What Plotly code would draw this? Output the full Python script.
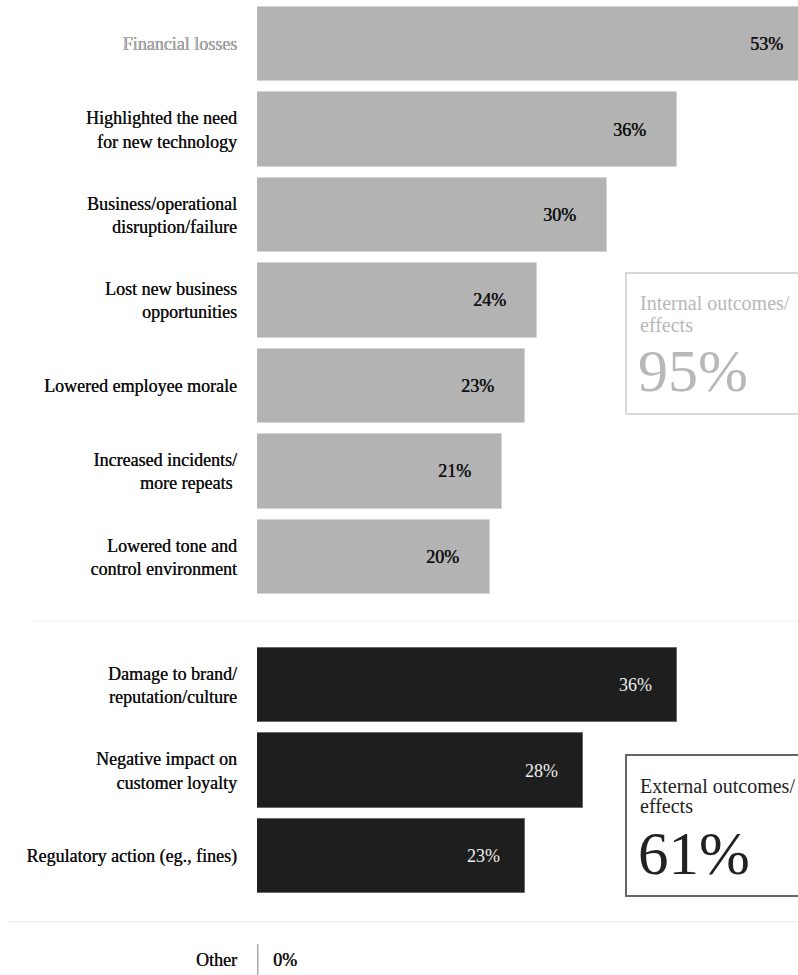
import plotly.graph_objects as go

# ---- data ----
internal_labels = ["Financial losses", "Highlighted the need<br>for new technology",
                   "Business/operational<br>disruption/failure", "Lost new business<br>opportunities",
                   "Lowered employee morale", "Increased incidents/<br>more repeats ",
                   "Lowered tone and<br>control environment"]
internal_values = [53, 36, 30, 24, 23, 21, 20]
external_labels = ["Damage to brand/<br>reputation/culture", "Negative impact on<br>customer loyalty",
                   "Regulatory action (eg., fines)"]
external_values = [36, 28, 23]
other_labels = ["Other"]
other_values = [0]
internal_title = ["Internal outcomes/", "effects"]
external_title = ["External outcomes/", "effects"]
internal_total = 95
external_total = 61

# ---- layout positions ----
internal_pos = [0, 1, 2, 3, 4, 5, 6]
external_pos = [7.5, 8.5, 9.5]
other_pos = [10.71]
XMAX = 46.4
FONT = "'Liberation Serif', 'Times New Roman', serif"
GRAY = "#b3b3b3"
DARK = "#1e1e1e"

fig = go.Figure()
fig.add_trace(go.Bar(y=internal_pos, x=internal_values, orientation="h", width=0.87,
                     marker=dict(color=GRAY, line=dict(color="#d4d4d4", width=1)),
                     hoverinfo="skip", showlegend=False))
fig.add_trace(go.Bar(y=external_pos, x=external_values, orientation="h", width=0.87,
                     marker=dict(color=DARK, line=dict(color="#6a6a6a", width=1)),
                     hoverinfo="skip", showlegend=False))

annotations = []
for v, p in zip(internal_values, internal_pos):
    clipped = v > XMAX
    annotations.append(dict(x=min(v, XMAX), y=p, xref="x", yref="y", text=f"{v}%",
                            showarrow=False, xanchor="right", yanchor="middle",
                            xshift=-13 if clipped else -29,
                            font=dict(family=FONT, size=18, color="#111", shadow="0.4px 0 0 #111")))
for v, p in zip(external_values, external_pos):
    annotations.append(dict(x=v, y=p, xref="x", yref="y", text=f"{v}%",
                            showarrow=False, xanchor="right", yanchor="middle", xshift=-23,
                            font=dict(family=FONT, size=18, color="#eeeeee")))
for v, p in zip(other_values, other_pos):
    annotations.append(dict(x=v, y=p, xref="x", yref="y", text=f"{v}%",
                            showarrow=False, xanchor="left", yanchor="middle", xshift=14,
                            font=dict(family=FONT, size=18, color="#111", shadow="0.4px 0 0 #111")))


def box_text(text, x_px, top_px, size, color):
    return dict(xref="paper", yref="paper", x=(x_px - 257) / 541, y=1 - top_px / 975,
                xanchor="left", yanchor="top", text=text, align="left", showarrow=False,
                borderpad=0, font=dict(family=FONT, size=size, color=color))


annotations += [
    box_text(internal_title[0], 639, 291, 20, "#b8b8b8"),
    box_text(internal_title[1], 639, 313, 20, "#b8b8b8"),
    box_text(f"{internal_total}%", 637, 337, 60, "#b8b8b8"),
    box_text(external_title[0], 639, 774, 20, "#222"),
    box_text(external_title[1], 639, 794, 20, "#222"),
    box_text(f"{external_total}%", 637, 819, 61, "#222"),
]

shapes = [
    dict(type="line", xref="paper", yref="y", x0=(33 - 257) / 541, x1=1, y0=6.75, y1=6.75,
         line=dict(color="#eeeeee", width=1)),
    dict(type="line", xref="paper", yref="y", x0=(8 - 257) / 541, x1=1, y0=10.27, y1=10.27,
         line=dict(color="#eeeeee", width=1.5)),
    dict(type="line", xref="x", yref="y", x0=other_values[0], x1=other_values[0],
         y0=other_pos[0] - 0.18, y1=other_pos[0] + 0.3, line=dict(color="#aaaaaa", width=3)),
    dict(type="rect", xref="paper", yref="paper", x0=(626 - 257) / 541, x1=1.02,
         y0=1 - 414 / 975, y1=1 - 273 / 975, line=dict(color="#cccccc", width=1.5)),
    dict(type="rect", xref="paper", yref="paper", x0=(626 - 257) / 541, x1=1.02,
         y0=1 - 896 / 975, y1=1 - 755 / 975, line=dict(color="#666666", width=2)),
]

ticktext = ["<span style='color:#b8b8b8'>" + internal_labels[0] + "</span>"] + internal_labels[1:] \
    + external_labels + other_labels
tickvals = internal_pos + external_pos + other_pos

fig.update_layout(
    width=798, height=975, margin=dict(l=257, r=0, t=0, b=0),
    paper_bgcolor="white", plot_bgcolor="white", bargap=0,
    font=dict(family=FONT, size=18, color="#111"),
    xaxis=dict(range=[0, XMAX], visible=False, fixedrange=True),
    yaxis=dict(range=[10.89, -0.515], tickvals=tickvals, ticktext=ticktext, showgrid=False,
               zeroline=False, ticks="", ticklabelstandoff=19, showline=False,
               tickfont=dict(family=FONT, size=18, color="#111", shadow="0.3px 0 0 #111")),
    annotations=annotations, shapes=shapes,
)
fig.write_html("out.html")
